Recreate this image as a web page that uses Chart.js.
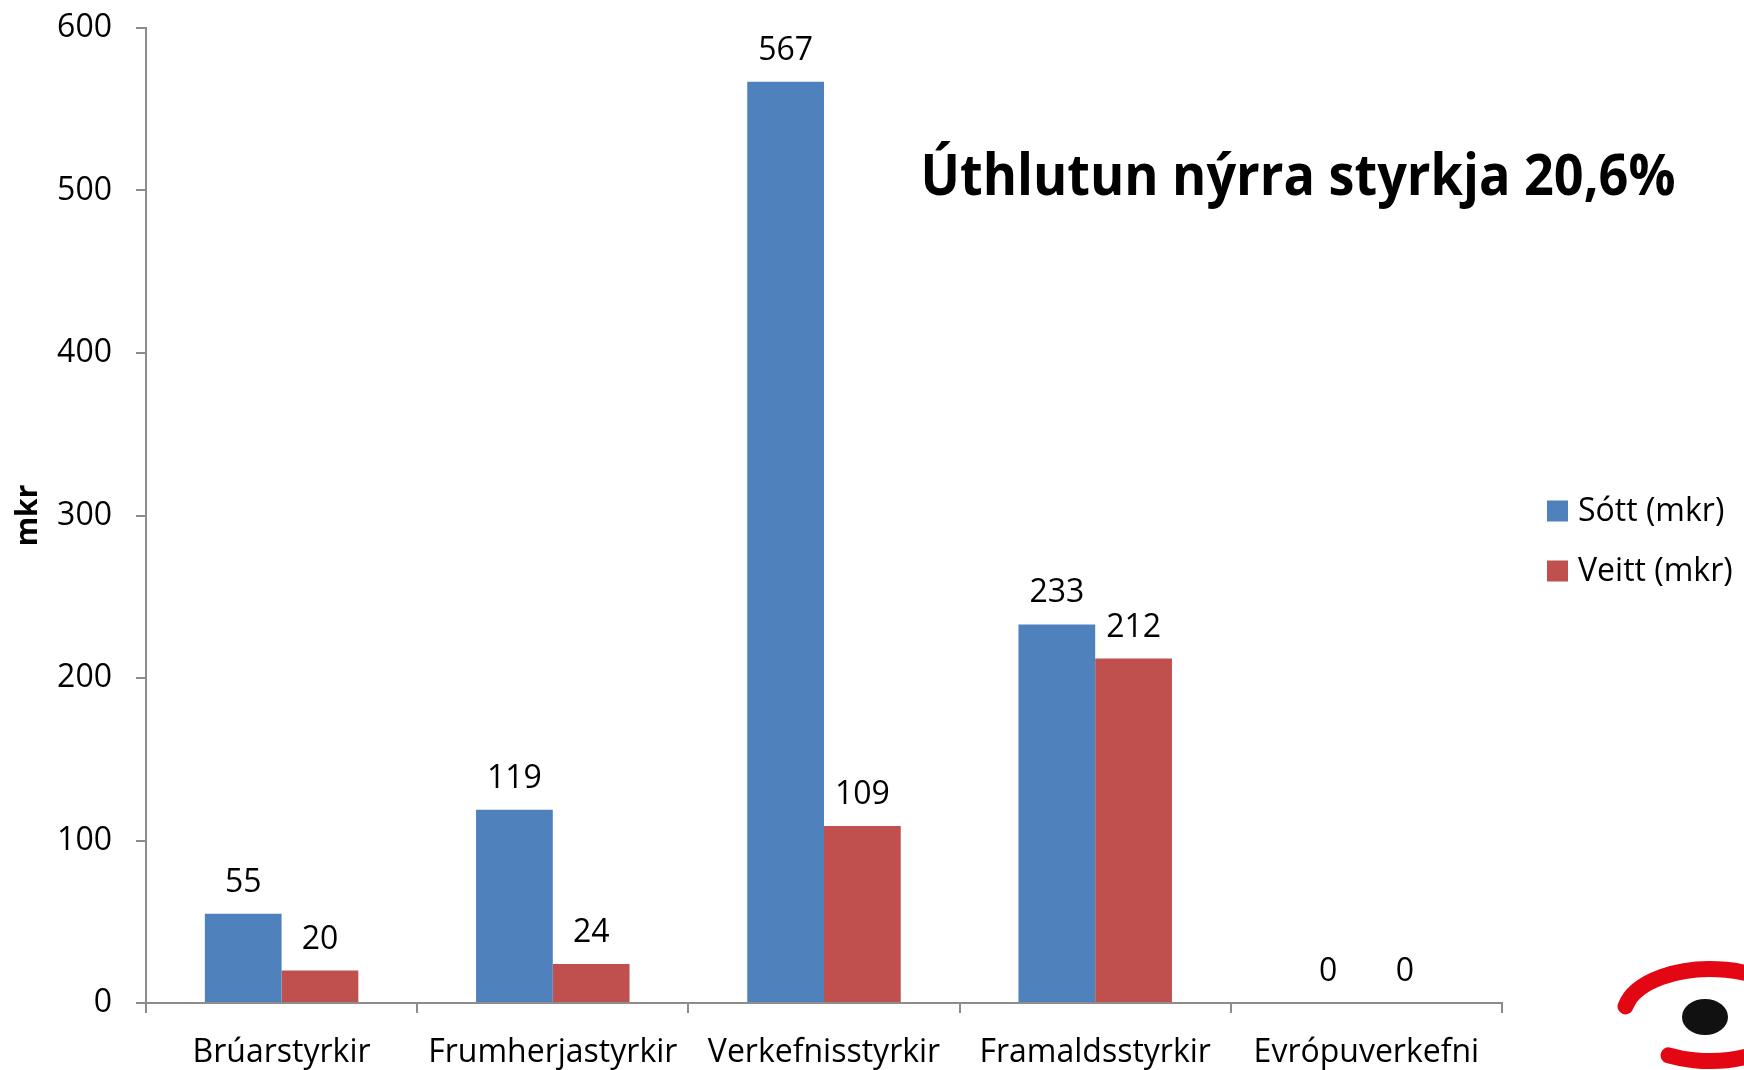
<!DOCTYPE html>
<html>
<head>
<meta charset="utf-8">
<script src="https://cdn.jsdelivr.net/npm/chart.js@4.4.1/dist/chart.umd.min.js"></script>
<style>
  html, body { margin: 0; padding: 0; background: #fff; }
  #wrap { width: 1744px; height: 1070px; position: relative; }
</style>
</head>
<body>
<div id="wrap"><canvas id="chart"></canvas></div>
<script>
const categories = ["Brúarstyrkir", "Frumherjastyrkir", "Verkefnisstyrkir", "Framaldsstyrkir", "Evrópuverkefni"];
const sottValues = [55, 119, 567, 233, 0];
const veittValues = [20, 24, 109, 212, 0];
const seriesNames = ["Sótt (mkr)", "Veitt (mkr)"];
const yTicks = [0, 100, 200, 300, 400, 500, 600];
const headline = "Úthlutun nýrra styrkja 20,6%";
const yTitle = "mkr";

const axisGray = "#8c8c8c";
const FONT = "'Open Sans', sans-serif";

Chart.defaults.color = "#000";
Chart.defaults.font.family = FONT;

// value labels above each bar
const valueLabels = {
  id: "valueLabels",
  afterDatasetsDraw(chart) {
    const ctx = chart.ctx;
    ctx.save();
    ctx.font = "32px " + FONT;
    ctx.fillStyle = "#000";
    ctx.textAlign = "center";
    ctx.textBaseline = "middle";
    chart.data.datasets.forEach((ds, i) => {
      chart.getDatasetMeta(i).data.forEach((bar, j) => {
        ctx.fillText(String(ds.data[j]), bar.x, bar.y - 31);
      });
    });
    ctx.restore();
  }
};

// headline, legend on the right, logo
const extras = {
  id: "extras",
  afterDraw(chart) {
    const ctx = chart.ctx;
    const area = chart.chartArea;
    ctx.save();

    // headline, slightly condensed like the original
    ctx.save();
    ctx.translate(area.right - 204, 178);
    ctx.scale(0.9, 1);
    ctx.font = "bold 58px " + FONT;
    ctx.fillStyle = "#000";
    ctx.textAlign = "center";
    ctx.textBaseline = "middle";
    ctx.fillText(headline, 0, 0);
    ctx.restore();

    ctx.font = "32px " + FONT;
    ctx.textAlign = "left";
    ctx.textBaseline = "middle";
    chart.data.datasets.forEach((ds, i) => {
      const y = 511 + i * 60;
      ctx.fillStyle = ds.backgroundColor;
      ctx.fillRect(area.right + 45, y - 10.5, 21, 21);
      ctx.fillStyle = "#000";
      ctx.fillText(ds.label, area.right + 76, y + 1);
    });

    // logo
    ctx.strokeStyle = "#e30613";
    ctx.lineWidth = 16;
    ctx.lineCap = "round";
    ctx.beginPath();
    ctx.ellipse(1710, 1015, 86, 46, 0, Math.PI * 1.06, Math.PI * 2.66);
    ctx.stroke();
    ctx.fillStyle = "#111";
    ctx.beginPath();
    ctx.ellipse(1705, 1017, 23, 18, 0, 0, Math.PI * 2);
    ctx.fill();

    ctx.restore();
  }
};

new Chart(document.getElementById("chart"), {
  type: "bar",
  data: {
    labels: categories,
    datasets: [
      { label: seriesNames[0], data: sottValues, backgroundColor: "#4F81BD" },
      { label: seriesNames[1], data: veittValues, backgroundColor: "#C0504D" }
    ]
  },
  options: {
    responsive: true,
    maintainAspectRatio: false,
    animation: false,
    layout: { padding: { top: 28, right: 242, bottom: 0, left: 0 } },
    datasets: { bar: { categoryPercentage: 0.566, barPercentage: 1.0 } },
    plugins: {
      legend: { display: false },
      tooltip: { enabled: false }
    },
    scales: {
      x: {
        grid: { drawOnChartArea: false, drawTicks: true, tickLength: 10, color: axisGray, lineWidth: 2 },
        border: { color: axisGray, width: 2 },
        ticks: { font: { size: 32 }, padding: 21, color: "#000", maxRotation: 0 },
        afterFit(scale) { scale.height = 67; }
      },
      y: {
        min: 0,
        max: 600,
        afterBuildTicks(scale) { scale.ticks = yTicks.map(v => ({ value: v })); },
        grid: { drawOnChartArea: false, drawTicks: true, tickLength: 10, color: axisGray, lineWidth: 2 },
        border: { color: axisGray, width: 2 },
        ticks: { font: { size: 32 }, padding: 24, color: "#000" },
        title: { display: true, text: yTitle, font: { size: 30, weight: "bold" }, padding: { top: 10, bottom: 0 }, color: "#000" },
        afterFit(scale) {
          scale.width = 146;
          scale.paddingTop = 0;
          scale.paddingBottom = 0;
        }
      }
    }
  },
  plugins: [valueLabels, extras]
});
</script>
</body>
</html>
